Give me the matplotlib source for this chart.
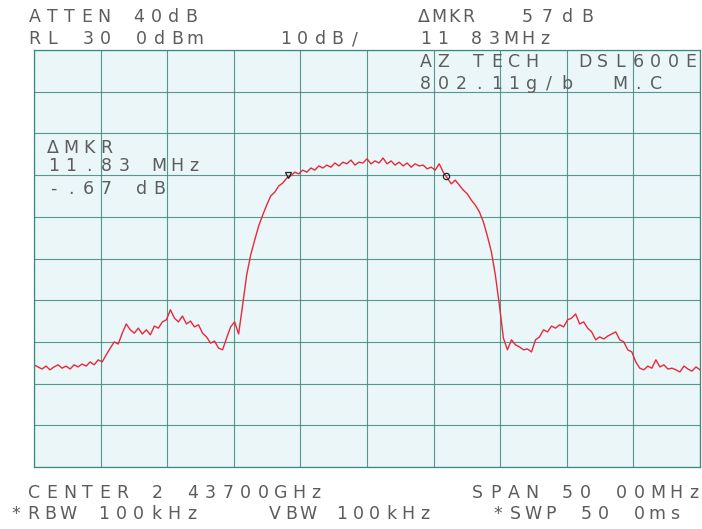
import numpy as np
import matplotlib.pyplot as plt

# Analyzer settings shown on the screen
span_mhz = 50.0
ref_level_dbm = 30.0
db_per_div = 10
delta_mkr_mhz = 11.83
ref_mkr_mhz = -5.92

# Swept trace, dBm, evenly spaced across the span
trace_dbm = [
    -45.5, -46.0, -46.5, -45.8, -46.7, -46.0, -45.5, -46.3, -45.8, -46.5, -45.5, -46.0, -45.3, -45.8, -44.8, -45.5, -44.3,
    -44.8, -43.1, -41.5, -40.0, -40.5, -37.9, -35.7, -37.1, -37.9, -36.7, -38.1, -37.1, -38.3, -36.2, -36.7, -35.2, -34.7,
    -32.3, -34.3, -35.2, -33.8, -35.7, -35.0, -36.4, -35.9, -37.9, -38.8, -40.3, -39.8, -41.5, -41.9, -39.1, -36.4, -35.2, -38.1,
    -31.2, -24.0, -19.2, -15.6, -12.2, -9.6, -7.2, -5.0, -4.1, -2.6, -1.9, -0.7, -0.2, 0.7, 0.3,
    1.2, 0.7, 1.7, 1.2, 2.2, 1.7, 2.4, 1.9, 2.9, 2.2, 3.1, 2.7, 3.6, 2.4, 3.1, 2.9, 3.9, 2.7, 3.4, 2.9,
    4.1, 2.7, 3.4, 2.4, 3.1, 2.2, 2.9, 1.9, 2.7, 2.2, 2.4, 1.5, 1.9, 1.2,
    2.7, 0.7, -0.7, -2.1, -1.2, -2.4, -3.6, -4.5, -6.0, -7.2, -8.8, -11.2, -14.6, -18.4, -24.0, -31.2, -39.1,
    -41.9, -39.5, -40.7, -41.2, -41.9, -41.7, -42.4, -39.5, -38.8, -37.1, -37.6, -36.2, -36.7, -35.9, -36.4, -34.7,
    -34.3, -33.3, -35.7, -35.2, -36.7, -37.6, -39.5, -38.8, -39.3, -38.6, -38.1, -37.6, -39.5, -40.0, -41.9, -42.4,
    -44.8, -46.3, -46.7, -45.8, -46.3, -44.3, -46.0, -45.5, -46.5, -46.3, -46.7, -47.2, -45.8, -46.5, -47.0, -46.0, -46.7,
]

# Screen annotations: text, left x (px), centre y (px), character pitch (px)
screen_text = [
    ("ATTEN 40dB", 29, 17, 17.4),
    ("\u0394MKR", 418, 17, 15.0),
    ("57dB", 522, 17, 20.0),
    ("RL 30 0dBm", 29, 39, 17.8),
    ("10dB/", 280, 39, 17.3),
    ("11 83MHz", 420, 39, 17.1),
    ("AZ TECH  DSL600E", 420, 62, 17.7),
    ("802.11g/b  M.C", 420, 84, 17.7),
    ("\u0394MKR", 47, 148, 18.0),
    ("11.83 MHz", 48, 166, 17.6),
    ("-.67 dB", 48, 189, 17.6),
    ("CENTER 2 43700GHz", 29, 493, 17.6),
    ("SPAN 50 00MHz", 472, 493, 18.0),
    ("*RBW 100kHz", 10, 514, 17.6),
    ("VBW 100kHz", 269, 514, 16.7),
    ("*SWP 50 0ms", 492, 514, 17.7),
]

W, H = 702, 529
grid_color = "#38897a"

fig = plt.figure(figsize=(W / 100, H / 100), dpi=100)
ax = fig.add_axes([34 / W, 1 - 467 / H, 666 / W, 417 / H])
ax.set_facecolor("#eaf6f8")

freq = np.linspace(-span_mhz / 2, span_mhz / 2, len(trace_dbm))
ax.plot(freq, trace_dbm, color="#e8283c", lw=1.0)

# reference and delta markers sit on the trace
m1 = ref_mkr_mhz
m2 = ref_mkr_mhz + delta_mkr_mhz
ax.plot([m1], [np.interp(m1, freq, trace_dbm) + 0.6], marker="v", ms=5,
        mfc="none", mec="#222222", mew=0.9, ls="none")
ax.plot([m2], [np.interp(m2, freq, trace_dbm)], marker="o", ms=4.5,
        mfc="none", mec="#222222", mew=0.9, ls="none")

bottom = ref_level_dbm - 10 * db_per_div
ax.set_xlim(-span_mhz / 2, span_mhz / 2)
ax.set_ylim(bottom, ref_level_dbm)
ax.set_xticks(np.linspace(-span_mhz / 2, span_mhz / 2, 11))
ax.set_yticks(np.arange(bottom, ref_level_dbm + 1, db_per_div))
ax.grid(True, color=grid_color, lw=0.8, alpha=0.85)
ax.tick_params(length=0, labelbottom=False, labelleft=False)
for sp in ax.spines.values():
    sp.set_color(grid_color)
    sp.set_linewidth(0.9)


def screen_label(s, x, y, pitch):
    # plotter prints each character on a fixed wide pitch
    for i, ch in enumerate(s):
        if ch == " ":
            continue
        fig.text((x + i * pitch + 5.5) / W, 1 - y / H, ch, ha="center", va="center",
                 fontsize=12.5, color="#5c5c5c", family="DejaVu Sans")


for s, x, y, p in screen_text:
    screen_label(s, x, y, p)

fig.savefig("out.png", dpi=100)
